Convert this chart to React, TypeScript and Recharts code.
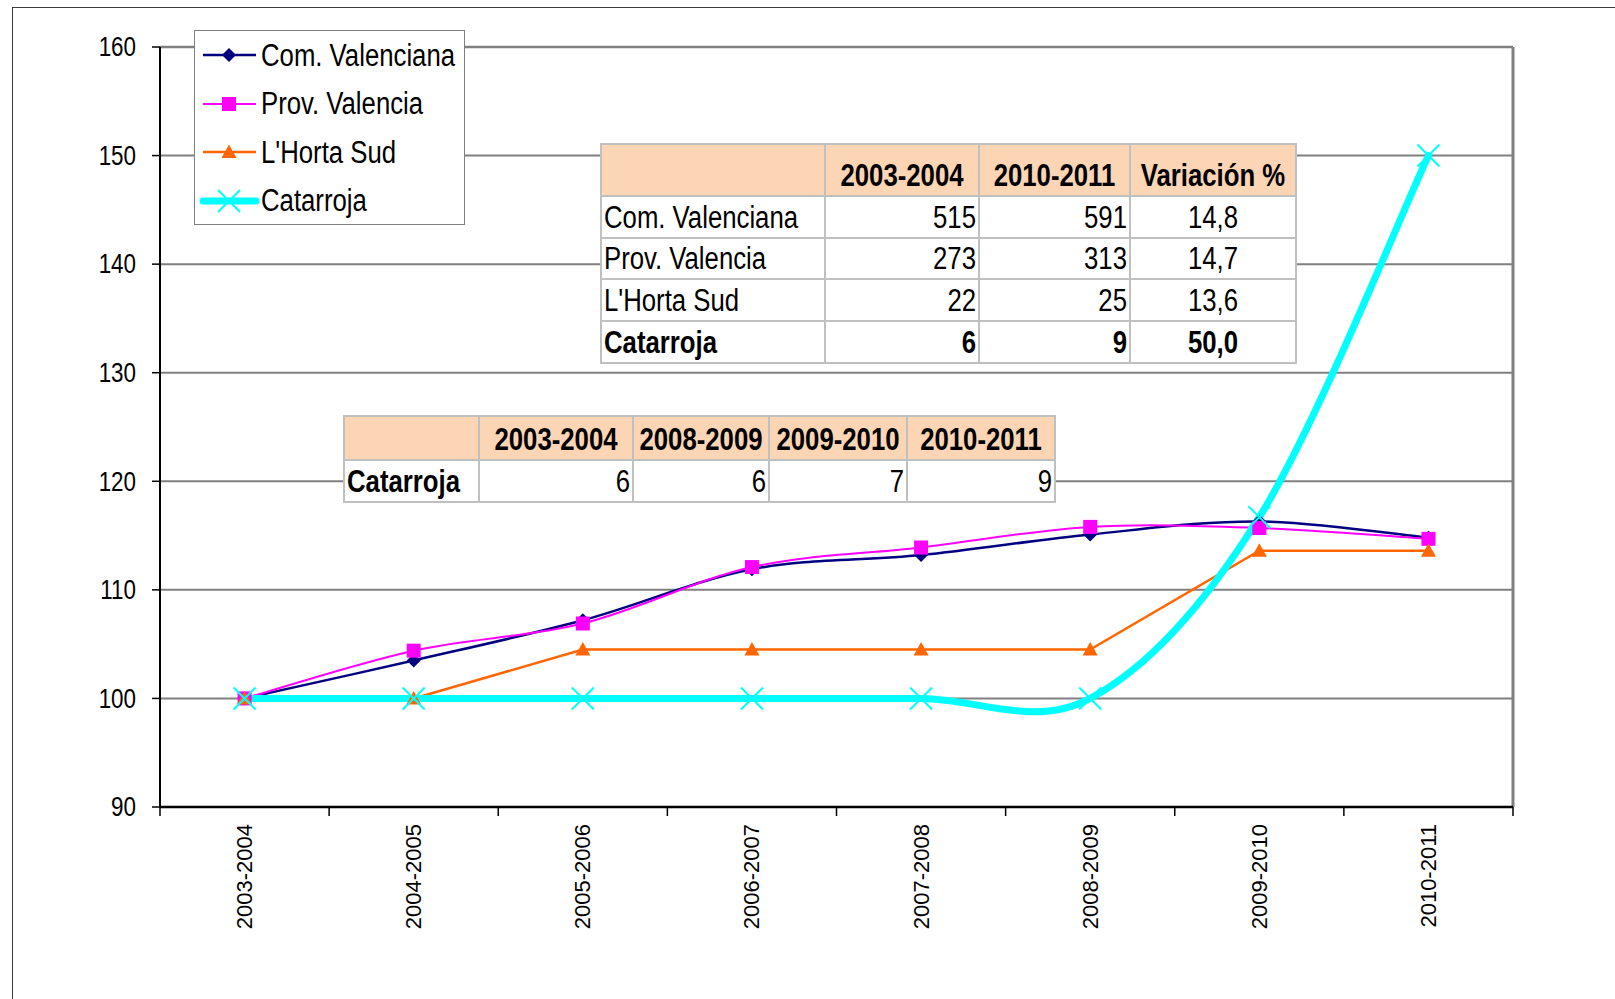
import React from 'react';
import { LineChart, Line, XAxis, YAxis, CartesianGrid, Legend, ReferenceLine } from 'recharts';

// ---------- data ----------
const categories = ['2003-2004', '2004-2005', '2005-2006', '2006-2007', '2007-2008', '2008-2009', '2009-2010', '2010-2011'];
const comValenciana = [100, 103.5, 107.2, 111.9, 113.2, 115.1, 116.3, 114.8];
const provValencia = [100, 104.4, 106.9, 112.1, 113.9, 115.8, 115.7, 114.7];
const lhortaSud = [100, 100, 104.5, 104.5, 104.5, 104.5, 113.6, 113.6];
const catarroja = [100, 100, 100, 100, 100, 100, 116.7, 150];
const yTicks = [90, 100, 110, 120, 130, 140, 150, 160];

const summaryHeaders = ['', '2003-2004', '2010-2011', 'Variación %'];
const summaryNames = ['Com. Valenciana', 'Prov. Valencia', "L'Horta Sud", 'Catarroja'];
const summaryStart = [515, 273, 22, 6];
const summaryEnd = [591, 313, 25, 9];
const summaryVar = ['14,8', '14,7', '13,6', '50,0'];

const catHeaders = ['2003-2004', '2008-2009', '2009-2010', '2010-2011'];
const catName = 'Catarroja';
const catValues = [6, 6, 7, 9];

const seriesOrder = ['com', 'prov', 'horta', 'catarroja'];

const data = categories.map((c, i) => ({
  i,
  cat: c,
  com: comValenciana[i],
  prov: provValencia[i],
  horta: lhortaSud[i],
  catarroja: catarroja[i],
}));

// ---------- layout / style ----------
const FONT = "'Liberation Sans', Arial, sans-serif";
const SQ = 0.83; // horizontal squeeze to imitate a narrow font
const PLOT_LEFT = 160;
const PLOT_RIGHT = 1513;
const PLOT_TOP = 47;
const PLOT_BOTTOM = 807;
const CHART_W = 1615;
const CHART_H = 999;
const Y_AXIS_W = 100;
const X_AXIS_H = 150;
const HALF_BAND = (PLOT_RIGHT - PLOT_LEFT) / categories.length / 2;
const PEACH = '#FCD5B4';
const CELL_BORDER = '2px solid #C0C0C0';

// Excel-like smoothed line (Catmull-Rom)
const smoothCurve = (context: any) => {
  let pts: number[][] = [];
  return {
    areaStart() {},
    areaEnd() {},
    lineStart() {
      pts = [];
    },
    point(x: number, y: number) {
      pts.push([+x, +y]);
    },
    lineEnd() {
      const n = pts.length;
      if (!n) return;
      context.moveTo(pts[0][0], pts[0][1]);
      for (let k = 0; k < n - 1; k++) {
        const p0 = pts[k - 1] || pts[k];
        const p1 = pts[k];
        const p2 = pts[k + 1];
        const p3 = pts[k + 2] || p2;
        context.bezierCurveTo(
          p1[0] + (p2[0] - p0[0]) / 6,
          p1[1] + (p2[1] - p0[1]) / 6,
          p2[0] - (p3[0] - p1[0]) / 6,
          p2[1] - (p3[1] - p1[1]) / 6,
          p2[0],
          p2[1]
        );
      }
    },
  };
};

const markerShape = (kind: string, cx: number, cy: number, color: string, key?: any) => {
  if (kind === 'diamond') {
    return <path key={key} d={`M${cx},${cy - 7}L${cx + 7},${cy}L${cx},${cy + 7}L${cx - 7},${cy}Z`} fill={color} />;
  }
  if (kind === 'square') {
    return <rect key={key} x={cx - 7} y={cy - 7} width={14} height={14} fill={color} />;
  }
  if (kind === 'triangle') {
    return <path key={key} d={`M${cx},${cy - 7.5}L${cx + 7.5},${cy + 6}L${cx - 7.5},${cy + 6}Z`} fill={color} />;
  }
  return (
    <g key={key}>
      <line x1={cx - 11} y1={cy - 11} x2={cx + 11} y2={cy + 11} stroke={color} strokeWidth={2} />
      <line x1={cx - 11} y1={cy + 11} x2={cx + 11} y2={cy - 11} stroke={color} strokeWidth={2} />
    </g>
  );
};

const seriesConfig: Record<string, { marker: string; width: number }> = {
  com: { marker: 'diamond', width: 2.5 },
  prov: { marker: 'square', width: 2 },
  horta: { marker: 'triangle', width: 2.5 },
  catarroja: { marker: 'x', width: 7 },
};

const makeDot = (kind: string, color: string) => (props: any) => {
  const { cx, cy, index } = props;
  if (cx == null || cy == null) return <g key={`e${index}`} />;
  return markerShape(kind, cx, cy, color, `${kind}-${index}`);
};

const XTick = (props: any) => {
  const { x, y, payload, index } = props;
  const label = categories[payload.value];
  return (
    <g>
      <line x1={x - HALF_BAND} y1={y} x2={x - HALF_BAND} y2={y + 9} stroke="#000" strokeWidth={1.5} />
      {index === categories.length - 1 && (
        <line x1={x + HALF_BAND} y1={y} x2={x + HALF_BAND} y2={y + 9} stroke="#000" strokeWidth={1.5} />
      )}
      <text
        transform={`translate(${x},${y + 17}) rotate(-90)`}
        textAnchor="end"
        dominantBaseline="central"
        fontFamily={FONT}
        fontSize={22}
        fill="#000"
      >
        {label}
      </text>
    </g>
  );
};

const YTick = (props: any) => {
  const { x, y, payload } = props;
  return (
    <text
      transform={`translate(${x},${y}) scale(${SQ},1)`}
      x={0}
      y={0}
      textAnchor="end"
      dominantBaseline="central"
      fontFamily={FONT}
      fontSize={27}
      fill="#000"
    >
      {payload.value}
    </text>
  );
};

const Squeezed = ({ children, align }: { children: React.ReactNode; align: 'left' | 'right' | 'center' }) => (
  <div
    style={{
      width: `${100 / SQ}%`,
      transform: `scaleX(${SQ})`,
      transformOrigin: 'left center',
      textAlign: align,
      whiteSpace: 'nowrap',
    }}
  >
    {children}
  </div>
);

const LegendContent = (props: any) => {
  const payload = [...(props.payload || [])].sort(
    (a: any, b: any) => seriesOrder.indexOf(a.dataKey) - seriesOrder.indexOf(b.dataKey)
  );
  return (
    <div
      style={{
        width: 271,
        height: 195,
        boxSizing: 'border-box',
        border: '1.5px solid #808080',
        background: '#fff',
      }}
    >
      {payload.map((entry: any) => {
        const cfg = seriesConfig[entry.dataKey] || { marker: 'x', width: 2 };
        return (
          <div key={entry.dataKey} style={{ height: 48.5, display: 'flex', alignItems: 'center' }}>
            <svg width={66} height={40} style={{ flex: 'none' }}>
              <line
                x1={8}
                y1={20}
                x2={61}
                y2={20}
                stroke={entry.color}
                strokeWidth={cfg.width}
                strokeLinecap={cfg.marker === 'x' ? 'round' : 'butt'}
              />
              {markerShape(cfg.marker, 34, 20, entry.color)}
            </svg>
            <span
              style={{
                display: 'inline-block',
                fontFamily: FONT,
                fontSize: 31,
                color: '#000',
                whiteSpace: 'nowrap',
                lineHeight: 1,
                transform: `scaleX(${SQ})`,
                transformOrigin: 'left center',
              }}
            >
              {entry.value}
            </span>
          </div>
        );
      })}
    </div>
  );
};

const cellBase: React.CSSProperties = {
  border: CELL_BORDER,
  fontFamily: FONT,
  fontSize: 31,
  lineHeight: 1,
  verticalAlign: 'bottom',
  padding: '0 2px 4px 2px',
  color: '#000',
  whiteSpace: 'nowrap',
  overflow: 'hidden',
};

const SummaryTable = () => {
  const colW = [224, 154, 151, 166];
  const rowH = [52, 42, 41, 42, 42];
  return (
    <table
      style={{
        position: 'absolute',
        left: 600,
        top: 143,
        borderCollapse: 'collapse',
        tableLayout: 'fixed',
        width: colW.reduce((a, b) => a + b, 0),
        background: '#fff',
        zIndex: 5,
      }}
    >
      <colgroup>
        {colW.map((w, k) => (
          <col key={k} style={{ width: w }} />
        ))}
      </colgroup>
      <tbody>
        <tr style={{ height: rowH[0] }}>
          {summaryHeaders.map((h, k) => (
            <td key={k} style={{ ...cellBase, background: PEACH, fontWeight: 'bold' }}>
              <Squeezed align="center">{h}</Squeezed>
            </td>
          ))}
        </tr>
        {summaryNames.map((name, r) => {
          const bold = r === summaryNames.length - 1;
          const fw = bold ? 'bold' : 'normal';
          return (
            <tr key={name} style={{ height: rowH[r + 1] }}>
              <td style={{ ...cellBase, fontWeight: fw }}>
                <Squeezed align="left">{name}</Squeezed>
              </td>
              <td style={{ ...cellBase, fontWeight: fw }}>
                <Squeezed align="right">{summaryStart[r]}</Squeezed>
              </td>
              <td style={{ ...cellBase, fontWeight: fw }}>
                <Squeezed align="right">{summaryEnd[r]}</Squeezed>
              </td>
              <td style={{ ...cellBase, fontWeight: fw }}>
                <Squeezed align="center">{summaryVar[r]}</Squeezed>
              </td>
            </tr>
          );
        })}
      </tbody>
    </table>
  );
};

const CatTable = () => {
  const colW = [135, 154, 136, 138, 148];
  const rowH = [44, 42];
  return (
    <table
      style={{
        position: 'absolute',
        left: 343,
        top: 415,
        borderCollapse: 'collapse',
        tableLayout: 'fixed',
        width: colW.reduce((a, b) => a + b, 0),
        background: '#fff',
        zIndex: 5,
      }}
    >
      <colgroup>
        {colW.map((w, k) => (
          <col key={k} style={{ width: w }} />
        ))}
      </colgroup>
      <tbody>
        <tr style={{ height: rowH[0] }}>
          <td style={{ ...cellBase, background: PEACH }} />
          {catHeaders.map((h) => (
            <td key={h} style={{ ...cellBase, background: PEACH, fontWeight: 'bold' }}>
              <Squeezed align="center">{h}</Squeezed>
            </td>
          ))}
        </tr>
        <tr style={{ height: rowH[1] }}>
          <td style={{ ...cellBase, fontWeight: 'bold' }}>
            <Squeezed align="left">{catName}</Squeezed>
          </td>
          {catValues.map((v, k) => (
            <td key={k} style={{ ...cellBase }}>
              <Squeezed align="right">{v}</Squeezed>
            </td>
          ))}
        </tr>
      </tbody>
    </table>
  );
};

export default function App() {
  return (
    <div
      style={{
        position: 'absolute',
        left: 0,
        top: 0,
        width: CHART_W,
        height: CHART_H,
        overflow: 'hidden',
        background: '#fff',
      }}
    >
      <div
        style={{
          position: 'absolute',
          left: 12,
          top: 7,
          width: 2000,
          height: 2000,
          borderLeft: '1.5px solid #3a3a3a',
          borderTop: '1.5px solid #3a3a3a',
        }}
      />
      <div style={{ position: 'absolute', left: 0, top: 0 }}>
        <LineChart
          width={CHART_W}
          height={CHART_H}
          data={data}
          margin={{
            top: PLOT_TOP,
            right: CHART_W - PLOT_RIGHT,
            bottom: CHART_H - PLOT_BOTTOM - X_AXIS_H,
            left: PLOT_LEFT - Y_AXIS_W,
          }}
        >
          <CartesianGrid vertical={false} stroke="#808080" strokeWidth={2} />
          <XAxis
            dataKey="i"
            type="number"
            domain={[-0.5, categories.length - 0.5]}
            ticks={categories.map((_, k) => k)}
            interval={0}
            height={X_AXIS_H}
            tickLine={false}
            tickSize={0}
            tickMargin={0}
            axisLine={{ stroke: '#000', strokeWidth: 2.5 }}
            tick={<XTick />}
          />
          <YAxis
            domain={[90, 160]}
            ticks={yTicks}
            interval={0}
            width={Y_AXIS_W}
            tickSize={8}
            tickMargin={16}
            tickLine={{ stroke: '#000', strokeWidth: 1.5 }}
            axisLine={{ stroke: '#000', strokeWidth: 2 }}
            tick={<YTick />}
          />
          <ReferenceLine x={categories.length - 0.5} stroke="#808080" strokeWidth={3} />
          <ReferenceLine y={160} stroke="#808080" strokeWidth={2.5} />
          <Legend
            layout="horizontal"
            verticalAlign="middle"
            align="center"
            wrapperStyle={{ left: 194, top: 30, width: 271, height: 195 }}
            content={<LegendContent />}
          />
          <Line
            dataKey="com"
            name="Com. Valenciana"
            stroke="#000080"
            strokeWidth={2.5}
            type={smoothCurve as any}
            dot={makeDot('diamond', '#000080')}
            activeDot={false}
            isAnimationActive={false}
          />
          <Line
            dataKey="prov"
            name="Prov. Valencia"
            stroke="#FF00FF"
            strokeWidth={2}
            type={smoothCurve as any}
            dot={makeDot('square', '#FF00FF')}
            activeDot={false}
            isAnimationActive={false}
          />
          <Line
            dataKey="horta"
            name="L'Horta Sud"
            stroke="#FF6600"
            strokeWidth={2.5}
            type="linear"
            dot={makeDot('triangle', '#FF6600')}
            activeDot={false}
            isAnimationActive={false}
          />
          <Line
            dataKey="catarroja"
            name="Catarroja"
            stroke="#00FFFF"
            strokeWidth={7}
            strokeLinecap="round"
            type={smoothCurve as any}
            dot={makeDot('x', '#00FFFF')}
            activeDot={false}
            isAnimationActive={false}
          />
        </LineChart>
      </div>
      <SummaryTable />
      <CatTable />
    </div>
  );
}
